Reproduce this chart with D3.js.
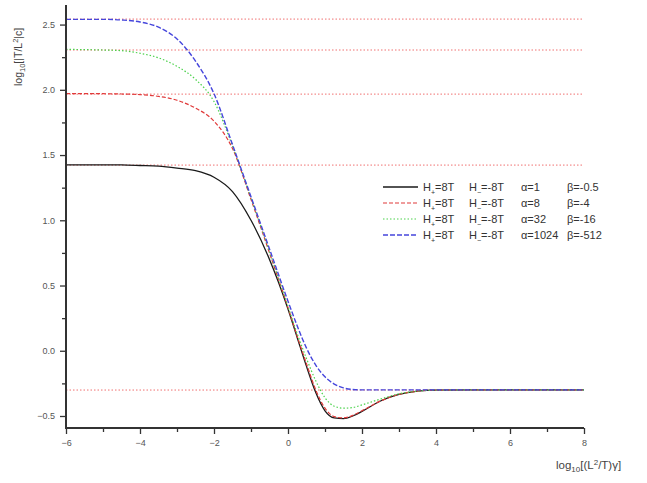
<!DOCTYPE html>
<html>
<head>
<meta charset="utf-8">
<script src="https://cdn.jsdelivr.net/npm/d3@7"></script>
<style>
body { margin: 0; background: #fff; }
text { font-family: "Liberation Sans", Arial, sans-serif; }
</style>
</head>
<body>
<svg id="chart" width="647" height="483"></svg>
<script>
// sample points along log10[(L^2/T)gamma]
var xValues = [-6, -5, -4.5, -4, -3.5, -3, -2.5, -2, -1.5, -1, -0.5, 0, 0.25, 0.5, 0.75, 1, 1.25, 1.5, 1.75, 2, 2.5, 3, 3.5, 4, 5, 6, 7, 8];

// alpha=1, beta=-0.5
var seriesA1 = [1.425, 1.425, 1.424, 1.42, 1.415, 1.40, 1.38, 1.33, 1.22, 1.00, 0.70, 0.32, 0.10, -0.12, -0.32, -0.46, -0.515, -0.52, -0.50, -0.465, -0.385, -0.335, -0.31, -0.302, -0.30, -0.30, -0.30, -0.30];
// alpha=8, beta=-4
var seriesA8 = [1.97, 1.97, 1.968, 1.963, 1.95, 1.92, 1.86, 1.76, 1.55, 1.16, 0.75, 0.33, 0.11, -0.10, -0.30, -0.44, -0.505, -0.515, -0.495, -0.46, -0.385, -0.335, -0.31, -0.302, -0.30, -0.30, -0.30, -0.30];
// alpha=32, beta=-16
var seriesA32 = [2.31, 2.305, 2.30, 2.28, 2.245, 2.18, 2.08, 1.91, 1.57, 1.17, 0.76, 0.34, 0.13, -0.06, -0.23, -0.36, -0.425, -0.44, -0.435, -0.415, -0.37, -0.33, -0.31, -0.302, -0.30, -0.30, -0.30, -0.30];
// alpha=1024, beta=-512
var seriesA1024 = [2.54, 2.54, 2.535, 2.52, 2.48, 2.39, 2.22, 1.97, 1.58, 1.18, 0.78, 0.38, 0.19, 0.02, -0.11, -0.20, -0.255, -0.285, -0.297, -0.30, -0.30, -0.30, -0.30, -0.30, -0.30, -0.30, -0.30, -0.30];

// plateau reference levels (dotted)
var refLevels = [2.542, 2.305, 1.967, 1.423, -0.301];

var xTicks = [-6, -4, -2, 0, 2, 4, 6, 8];
var yTicks = [-0.5, 0.0, 0.5, 1.0, 1.5, 2.0, 2.5];

var legendLabels = [
    ["8T", "-8T", "1", "-0.5"],
    ["8T", "-8T", "8", "-4"],
    ["8T", "-8T", "32", "-16"],
    ["8T", "-8T", "1024", "-512"]
];

var seriesStyles = [
    { stroke: '#1a1a1a', dash: null, width: 1.3 },
    { stroke: '#e03a3a', dash: '4,2', width: 1.2 },
    { stroke: '#4cd24c', dash: '1.5,2', width: 1.2 },
    { stroke: '#4646dc', dash: '5,2', width: 1.4 }
];

var svg = d3.select('#chart');

var xs = d3.scaleLinear().domain([-6, 8]).range([66, 584]);
var ys = d3.scaleLinear().domain([-0.592, 2.65]).range([428, 5]);

// reference lines
svg.append('g').selectAll('line').data(refLevels).enter().append('line')
    .attr('x1', xs(-6)).attr('x2', xs(8))
    .attr('y1', function (d) { return ys(d); })
    .attr('y2', function (d) { return ys(d); })
    .attr('stroke', '#f07070')
    .attr('stroke-width', 1)
    .attr('stroke-dasharray', '1.5,2');

// curves
var allSeries = [seriesA1, seriesA8, seriesA32, seriesA1024];
var line = d3.line()
    .x(function (d, i) { return xs(xValues[i]); })
    .y(function (d) { return ys(d); })
    .curve(d3.curveMonotoneX);

svg.append('g').selectAll('path').data(allSeries).enter().append('path')
    .attr('d', line)
    .attr('fill', 'none')
    .attr('stroke', function (d, i) { return seriesStyles[i].stroke; })
    .attr('stroke-width', function (d, i) { return seriesStyles[i].width; })
    .attr('stroke-dasharray', function (d, i) { return seriesStyles[i].dash; });

// axes
var xAxis = d3.axisBottom(xs).tickValues(xTicks).tickSize(6).tickPadding(6).tickFormat(d3.format('d'));
var xMinor = d3.axisBottom(xs).tickValues(d3.range(-5, 8, 2)).tickSize(4).tickFormat('');
var yAxis = d3.axisLeft(ys).tickValues(yTicks).tickSize(6).tickPadding(5).tickFormat(d3.format('.1f'));
var yMinor = d3.axisLeft(ys).tickValues(d3.range(-0.25, 2.6, 0.5)).tickSize(4).tickFormat('');

function styleAxis(g) {
    g.select('.domain').remove();
    g.selectAll('line').attr('stroke', '#333').attr('stroke-width', 1.3);
    g.selectAll('text').attr('fill', '#555').style('font-size', '9px');
}

svg.append('g').attr('transform', 'translate(0,428)').call(xMinor).call(styleAxis);
svg.append('g').attr('transform', 'translate(0,428)').call(xAxis).call(styleAxis);
svg.append('g').attr('transform', 'translate(66,0)').call(yMinor).call(styleAxis);
svg.append('g').attr('transform', 'translate(66,0)').call(yAxis).call(styleAxis);

// axis lines
svg.append('line').attr('x1', 66).attr('x2', 66).attr('y1', 5).attr('y2', 429)
    .attr('stroke', '#333').attr('stroke-width', 2);
svg.append('line').attr('x1', 65).attr('x2', 584).attr('y1', 428).attr('y2', 428)
    .attr('stroke', '#333').attr('stroke-width', 2);

// axis titles
var yTitle = svg.append('text')
    .attr('transform', 'translate(22,86) rotate(-90)')
    .attr('fill', '#444').style('font-size', '10.5px');
yTitle.append('tspan').text('log');
yTitle.append('tspan').attr('dy', 3).style('font-size', '7.5px').text('10');
yTitle.append('tspan').attr('dy', -3).text('[|T/L');
yTitle.append('tspan').attr('dy', -4).style('font-size', '7.5px').text('2');
yTitle.append('tspan').attr('dy', 4).text('|c]');

var xTitle = svg.append('text')
    .attr('x', 556).attr('y', 469)
    .attr('fill', '#444').style('font-size', '11.5px');
xTitle.append('tspan').text('log');
xTitle.append('tspan').attr('dy', 3).style('font-size', '8px').text('10');
xTitle.append('tspan').attr('dy', -3).text('[(L');
xTitle.append('tspan').attr('dy', -4).style('font-size', '8px').text('2');
xTitle.append('tspan').attr('dy', 4).text('/T)\u03b3]');

// legend
var legendRows = [187, 203, 219, 235];
var legend = svg.append('g');
legendRows.forEach(function (ry, i) {
    var st = seriesStyles[i];
    legend.append('line')
        .attr('x1', 383).attr('x2', 418).attr('y1', ry).attr('y2', ry)
        .attr('stroke', st.stroke).attr('stroke-width', st.width)
        .attr('stroke-dasharray', st.dash);
    var lab = legendLabels[i];
    var t = legend.append('text').attr('y', ry + 4).attr('fill', '#333').style('font-size', '11px');
    t.append('tspan').attr('x', 423).text('H');
    t.append('tspan').attr('dy', 4).style('font-size', '7px').text('+');
    t.append('tspan').attr('dy', -4).text('=' + lab[0]);
    var t2 = legend.append('text').attr('y', ry + 4).attr('fill', '#333').style('font-size', '11px');
    t2.append('tspan').attr('x', 469).text('H');
    t2.append('tspan').attr('dy', 4).style('font-size', '7px').text('\u2212');
    t2.append('tspan').attr('dy', -4).text('=' + lab[1]);
    legend.append('text').attr('x', 521).attr('y', ry + 4).attr('fill', '#333')
        .style('font-size', '11px').text('\u03b1=' + lab[2]);
    legend.append('text').attr('x', 567).attr('y', ry + 4).attr('fill', '#333')
        .style('font-size', '11px').text('\u03b2=' + lab[3]);
});
</script>
</body>
</html>
